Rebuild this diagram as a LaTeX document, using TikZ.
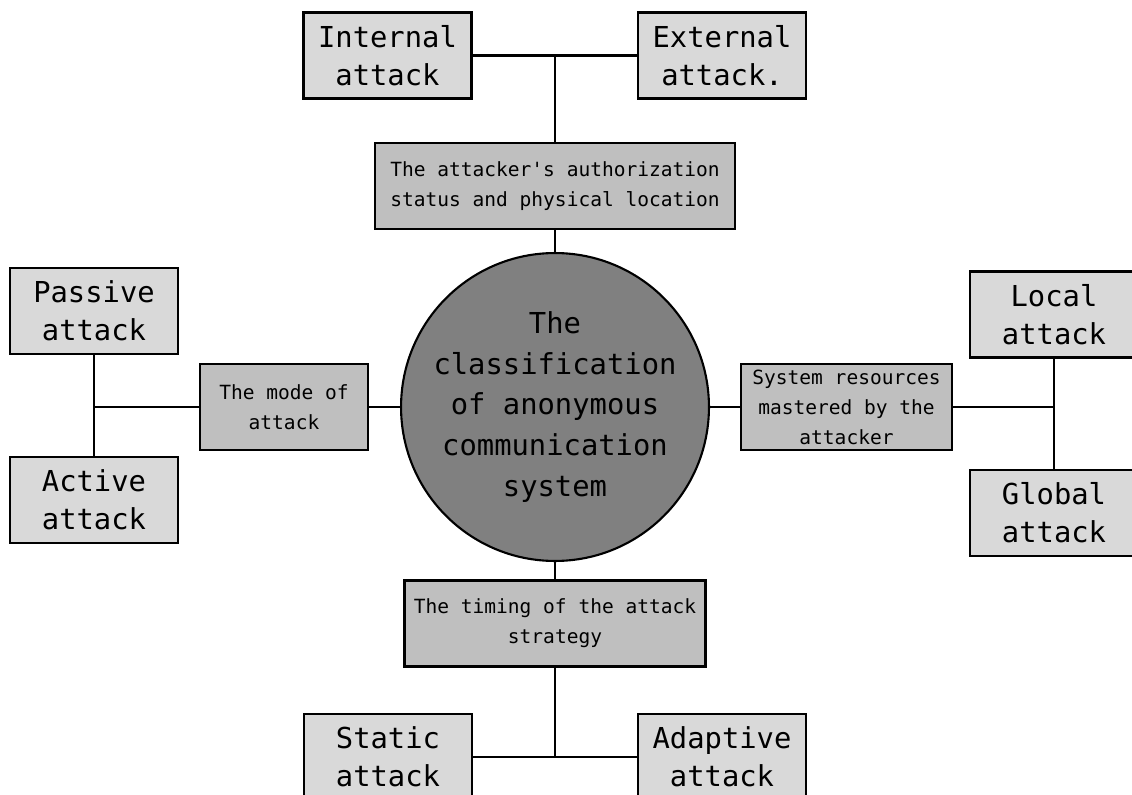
\documentclass[tikz,border=0pt]{standalone}
\usepackage{fontspec}
\setmainfont{DejaVu Sans Mono}
\usetikzlibrary{shapes.geometric}

\tikzset{
	leafbox/.style={draw=black, line width=1.5pt, fill=black!15, inner sep=0pt,
		minimum width=4.2cm, minimum height=2.15cm, align=center,
		font=\fontsize{20.5}{27}\selectfont},
	groupbox/.style={draw=black, line width=1.5pt, fill=black!25, inner sep=0pt,
		minimum height=2.15cm, align=center,
		font=\fontsize{13.9}{21.3}\selectfont},
	link/.style={line width=1.5pt},
}

\begin{document}
\begin{tikzpicture}[x=0.025cm, y=-0.025cm]
			%%%%% START %%%%%
			\useasboundingbox (0, 0) rectangle (1132, 795);
			\clip (0, 0) rectangle (1132, 795);
			
			\node[circle, draw=black, line width=1.5pt, fill=black!50, minimum size=7.6cm, inner sep=0pt, align=center,
				font=\fontsize{20.5}{29}\selectfont] (cls) at (555, 407)
				{The\\classification\\of anonymous\\communication\\system};
			
			% top
			\node[groupbox, minimum width=9cm] (auth) at (555, 186) {The attacker\textquotesingle s authorization\\status and physical location};
			\node[leafbox] (int) at (387.5, 55.5) {Internal\\attack};
			\node[leafbox] (ext) at (722, 55.5) {External\\attack.};
			\coordinate (topj) at (555, 55.5);
			
			% left
			\node[groupbox, minimum width=4.2cm] (mode) at (284, 407) {The mode of\\attack};
			\node[leafbox] (pas) at (94, 311) {Passive\\attack};
			\node[leafbox] (act) at (94, 500) {Active\\attack};
			\coordinate (leftj) at (94, 407);
			
			% right
			\node[groupbox, minimum width=5.275cm] (sys) at (846.5, 407) {System resources\\mastered by the\\attacker};
			\node[leafbox] (loc) at (1054, 314.5) {Local\\attack};
			\node[leafbox] (glo) at (1054, 513) {Global\\attack};
			\coordinate (rightj) at (1054, 407);
			
			% bottom
			\node[groupbox, minimum width=7.525cm] (tim) at (555, 623.5) {The timing of the attack\\strategy};
			\node[leafbox] (sta) at (388, 757) {Static\\attack};
			\node[leafbox] (ada) at (722, 757) {Adaptive\\attack};
			\coordinate (botj) at (555, 757);
			
			\draw[link] (int.east) -- (ext.west);
			\draw[link] (topj) -- (auth.north);
			\draw[link] (auth.south) -- (cls.north);
			
			\draw[link] (pas.south) -- (act.north);
			\draw[link] (leftj) -- (mode.west);
			\draw[link] (mode.east) -- (cls.west);
			
			\draw[link] (loc.south) -- (glo.north);
			\draw[link] (sys.east) -- (rightj);
			\draw[link] (cls.east) -- (sys.west);
			
			\draw[link] (cls.south) -- (tim.north);
			\draw[link] (tim.south) -- (botj);
			\draw[link] (sta.east) -- (ada.west);
			%%%%% END %%%%%
\end{tikzpicture}
\end{document}
